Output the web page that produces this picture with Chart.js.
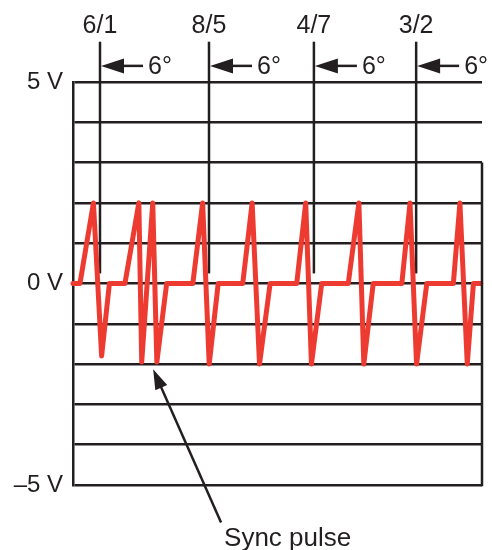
<!DOCTYPE html>
<html>
<head>
<meta charset="utf-8">
<script src="https://cdn.jsdelivr.net/npm/chart.js@4.4.1/dist/chart.umd.min.js"></script>
<style>
  html, body { margin: 0; padding: 0; background: #ffffff; }
  #wrap { width: 492px; height: 550px; }
</style>
</head>
<body>
<div id="wrap"><canvas id="syncChart" width="492" height="550"></canvas></div>
<script>
// waveform (time in 0..100 units, volts)
const waveTime = [0, 1.7, 5.0, 7.0, 8.9, 12.7, 16.1, 16.8, 19.5, 20.5, 22.9, 29.3, 31.7, 33.3, 35.5,
  41.5, 43.8, 45.6, 48.2, 54.7, 56.9, 58.3, 60.8, 67.3, 69.9, 71.1, 73.4, 80.4, 82.4, 84.0,
  86.5, 93.0, 94.6, 96.4, 97.9, 99.7];
const waveVolts = [0, 0, 2, -1.8, 0, 0, 2, -1.95, 2, -1.95, 0, 0, 2, -2, 0,
  0, 2, -2, 0, 0, 2, -2, 0, 0, 2, -2, 0, 0, 2, -2,
  0, 0, 2, -2, 0, 0];

// field markers
const markerLabels = ['6/1', '8/5', '4/7', '3/2'];
const markerTime = [6.6, 33.25, 58.9, 83.9];
const markerFrom = 0.25;
const markerTo = 6.0;
const phaseLabel = '6°';

// y axis
const yTickValues = [5, 0, -5];
const yTickLabels = ['5 V', '0 V', '–5 V'];

const syncLabel = 'Sync pulse';

const ink = '#231f20';
const red = '#ee3b32';
const fontFamily = '"Liberation Sans", Arial, Helvetica, sans-serif';

let ctxEl = document.querySelector('#syncChart');

const wavePoints = waveTime.map((t, i) => ({ x: t, y: waveVolts[i] }));

const markerSets = markerTime.map((t) => ({
  label: 'marker',
  data: [{ x: t, y: markerFrom }, { x: t, y: markerTo }],
  borderColor: ink,
  borderWidth: 2.5,
  pointRadius: 0,
  clip: false
}));

function arrowHead(ctx, tipX, tipY, fromX, fromY, len, half) {
  const a = Math.atan2(tipY - fromY, tipX - fromX);
  ctx.beginPath();
  ctx.moveTo(tipX, tipY);
  ctx.lineTo(tipX - len * Math.cos(a) + half * Math.sin(a), tipY - len * Math.sin(a) - half * Math.cos(a));
  ctx.lineTo(tipX - len * Math.cos(a) - half * Math.sin(a), tipY - len * Math.sin(a) + half * Math.cos(a));
  ctx.closePath();
  ctx.fill();
}

// labels, phase arrows, right frame edge and the sync pulse callout
const extras = {
  id: 'extras',
  afterDraw(chart) {
    const { ctx, chartArea } = chart;
    const x = chart.scales.x;
    const y = chart.scales.y;
    ctx.save();
    ctx.fillStyle = ink;
    ctx.strokeStyle = ink;
    ctx.lineWidth = 2.5;

    // right edge of the frame, from 3 V down
    ctx.beginPath();
    ctx.moveTo(chartArea.right, y.getPixelForValue(3));
    ctx.lineTo(chartArea.right, y.getPixelForValue(-5) + 1.25);
    ctx.stroke();

    ctx.font = '25px ' + fontFamily;
    markerTime.forEach((t, i) => {
      const px = x.getPixelForValue(t);
      const top = y.getPixelForValue(markerTo);
      ctx.textAlign = 'center';
      ctx.textBaseline = 'alphabetic';
      ctx.fillText(markerLabels[i], px, top - 8.5);

      const ay = y.getPixelForValue(5.4);
      arrowHead(ctx, px + 1, ay, px + 30, ay, 23, 7.5);
      ctx.beginPath();
      ctx.moveTo(px + 20, ay);
      ctx.lineTo(px + 43, ay);
      ctx.stroke();
      ctx.textAlign = 'left';
      ctx.fillText(phaseLabel, px + 48, ay + 8.5);
    });

    // sync pulse callout
    const tipX = x.getPixelForValue(19.6);
    const tipY = y.getPixelForValue(-2.13);
    const tailX = x.getPixelForValue(36.2);
    const tailY = y.getPixelForValue(-5.93);
    ctx.beginPath();
    ctx.moveTo(tailX, tailY);
    ctx.lineTo(tipX + (tailX - tipX) * 0.08, tipY + (tailY - tipY) * 0.08);
    ctx.stroke();
    arrowHead(ctx, tipX, tipY, tailX, tailY, 20, 6.5);

    ctx.font = '26px ' + fontFamily;
    ctx.textAlign = 'left';
    ctx.textBaseline = 'alphabetic';
    ctx.fillText(syncLabel, tailX + 3, tailY + 24);
    ctx.restore();
  }
};

const data = {
  datasets: [
    {
      label: 'Signal',
      data: wavePoints,
      borderColor: red,
      borderWidth: 5,
      borderJoinStyle: 'round',
      borderCapStyle: 'round',
      pointRadius: 0,
      tension: 0,
      clip: false
    },
    ...markerSets
  ]
};

const config = {
  type: 'line',
  data: data,
  options: {
    responsive: false,
    animation: false,
    layout: {
      padding: { top: 82, right: 10, bottom: 65, left: 0 }
    },
    plugins: {
      legend: { display: false },
      tooltip: { enabled: false }
    },
    scales: {
      x: {
        type: 'linear',
        min: 0,
        max: 100,
        display: false
      },
      y: {
        min: -5,
        max: 5,
        afterFit(scale) { scale.width = 73; },
        ticks: {
          stepSize: 1,
          padding: 10,
          color: ink,
          font: { size: 24, family: fontFamily },
          callback: (v) => {
            const i = yTickValues.indexOf(v);
            return i >= 0 ? yTickLabels[i] : '';
          }
        },
        grid: {
          color: ink,
          lineWidth: 2.5,
          drawTicks: false
        },
        border: {
          display: true,
          color: ink,
          width: 2.5
        }
      }
    }
  },
  plugins: [extras]
};

const chart = new Chart(ctxEl, config);
</script>
</body>
</html>
